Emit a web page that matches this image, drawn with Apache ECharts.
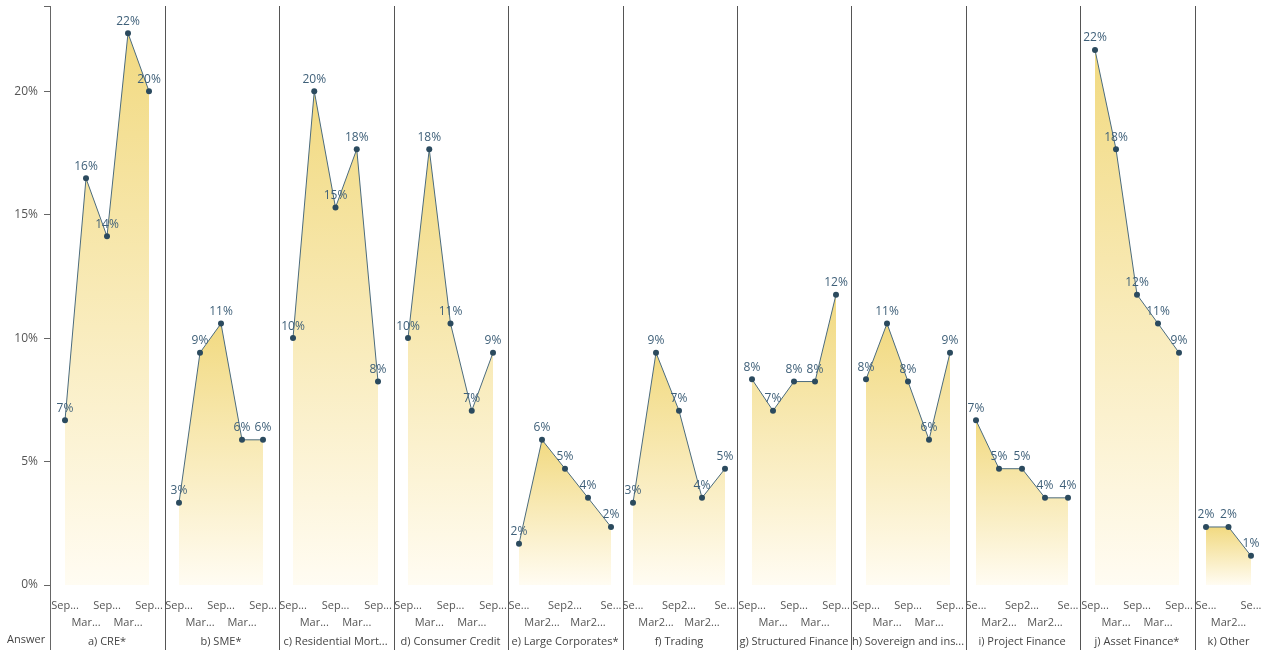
<!DOCTYPE html>
<html>
<head>
<meta charset="utf-8">
<script src="https://cdn.jsdelivr.net/npm/echarts@6/dist/echarts.min.js"></script>
<style>
html,body{margin:0;padding:0;background:#fff;overflow:hidden;}
#chart{width:1270px;height:653px;}
</style>
</head>
<body>
<div id="chart"></div>
<script>
// ---- DATA ----
const categories = ['Sep2019', 'Mar2020', 'Sep2020', 'Mar2021', 'Sep2021'];
const categoriesOther = ['Sep2020', 'Mar2021', 'Sep2021'];
const tickLabelsShort = ['Sep...', 'Mar...', 'Sep...', 'Mar...', 'Sep...'];
const tickLabelsWide = ['Se...', 'Mar2...', 'Sep2...', 'Mar2...', 'Se...'];
const tickLabelsOther = ['Se...', 'Mar2...', 'Se...'];
const yTicks = [0, 5, 10, 15, 20];

const panelNames = [
  'a) CRE*', 'b) SME*', 'c) Residential Mort...', 'd) Consumer Credit',
  'e) Large Corporates*', 'f) Trading', 'g) Structured Finance',
  'h) Sovereign and ins...', 'i) Project Finance', 'j) Asset Finance*', 'k) Other'
];
const creValues         = [6.67, 16.47, 14.12, 22.35, 20.00];
const smeValues         = [3.33, 9.41, 10.59, 5.88, 5.88];
const residentialValues = [10.00, 20.00, 15.29, 17.65, 8.24];
const consumerValues    = [10.00, 17.65, 10.59, 7.06, 9.41];
const largeCorpValues   = [1.67, 5.88, 4.71, 3.53, 2.35];
const tradingValues     = [3.33, 9.41, 7.06, 3.53, 4.71];
const structuredValues  = [8.33, 7.06, 8.24, 8.24, 11.76];
const sovereignValues   = [8.33, 10.59, 8.24, 5.88, 9.41];
const projectValues     = [6.67, 4.71, 4.71, 3.53, 3.53];
const assetValues       = [21.67, 17.65, 11.76, 10.59, 9.41];
const otherValues       = [2.35, 2.35, 1.18];

const panelValues = [creValues, smeValues, residentialValues, consumerValues, largeCorpValues,
  tradingValues, structuredValues, sovereignValues, projectValues, assetValues, otherValues];
const panelCats = [categories, categories, categories, categories, categories, categories,
  categories, categories, categories, categories, categoriesOther];
const panelTicks = [tickLabelsShort, tickLabelsShort, tickLabelsShort, tickLabelsShort, tickLabelsWide,
  tickLabelsWide, tickLabelsShort, tickLabelsShort, tickLabelsWide, tickLabelsShort, tickLabelsOther];

// ---- LAYOUT (pixels) ----
const plotLeft = [65, 179, 293, 408, 519, 633, 752, 866, 976, 1095, 1206];
const plotRight = [149, 263, 378, 493, 611, 725, 836, 950, 1068, 1179, 1251];
const dividers = [50, 165, 279, 394, 508, 623, 737, 851, 966, 1080, 1195];
const TOP = 6, PLOT_H = 579;
const YMAX = 23.45;

const font = '"Segoe UI", "Open Sans", "Noto Sans", sans-serif';
const chart = echarts.init(document.getElementById('chart'), null, {renderer: 'canvas', width: 1270, height: 653});

const grids = [], xAxes = [], yAxes = [], series = [];
panelValues.forEach((vals, i) => {
  grids.push({
    left: plotLeft[i], width: plotRight[i] - plotLeft[i], top: TOP, height: PLOT_H,
    containLabel: false, outerBoundsMode: 'none'
  });
  const ticks = panelTicks[i];
  xAxes.push({
    type: 'category', gridIndex: i, data: panelCats[i], boundaryGap: false,
    axisLine: {show: false}, axisTick: {show: false},
    axisLabel: {
      interval: 0, margin: 12, color: '#555', fontSize: 11, fontFamily: font, lineHeight: 17,
      formatter: (v, idx) => (idx % 2 === 1 ? '\n' : '') + ticks[idx]
    },
    name: panelNames[i], nameLocation: 'middle', nameGap: 48,
    nameTextStyle: {color: '#444', fontSize: 11, fontFamily: font}
  });
  yAxes.push({
    type: 'value', gridIndex: i, min: 0, max: YMAX, interval: 5,
    show: i === 0, offset: i === 0 ? plotLeft[0] - dividers[0] : 0,
    axisLine: {show: false},
    axisTick: {show: true, length: 6, lineStyle: {color: '#666'}},
    splitLine: {show: false},
    axisLabel: {
      color: '#555', fontSize: 12, fontFamily: font, margin: 12,
      formatter: v => (yTicks.indexOf(v) >= 0 ? v + '%' : '')
    }
  });
  series.push({
    type: 'line', xAxisIndex: i, yAxisIndex: i, data: vals,
    symbol: 'circle', symbolSize: 6, showAllSymbol: true,
    lineStyle: {color: '#4B6B7D', width: 1},
    itemStyle: {color: '#2B4A5E'},
    areaStyle: {
      color: new echarts.graphic.LinearGradient(0, 0, 0, 1, [
        {offset: 0, color: '#EBC94A'},
        {offset: 1, color: '#FFFAEC'}
      ])
    },
    label: {
      show: true, position: 'top', distance: 3, color: '#3F6079', fontSize: 12, fontFamily: font,
      formatter: p => Math.round(p.value) + '%'
    },
    animation: false
  });
});

const graphics = dividers.map((x, i) => ({
  type: 'line', silent: true, z: 10,
  shape: {x1: x + 0.5, y1: TOP, x2: x + 0.5, y2: 650},
  style: {stroke: i === 0 ? '#666' : '#555', lineWidth: 1}
}));
graphics.push({
  type: 'text', left: 7, top: 634, silent: true,
  style: {text: 'Answer', fill: '#444', font: '11px ' + font}
});

chart.setOption({
  animation: false,
  grid: grids, xAxis: xAxes, yAxis: yAxes, series: series,
  graphic: graphics
});
</script>
</body>
</html>
